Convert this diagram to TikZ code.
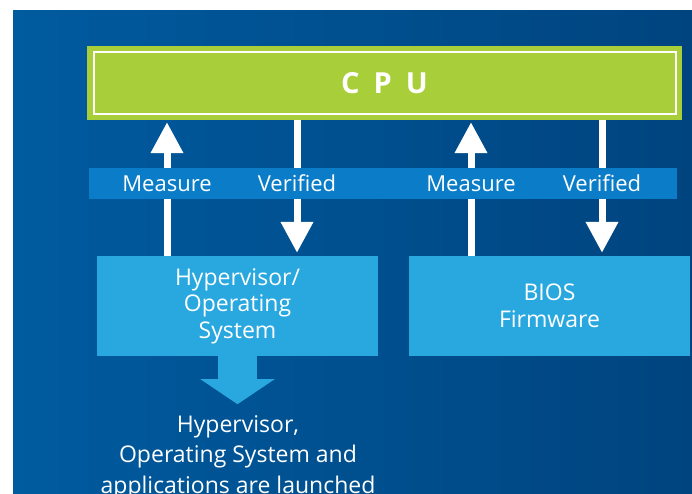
\documentclass[tikz,border=0pt]{standalone}
\usepackage{fontspec}
\setmainfont{Open Sans}
\definecolor{cBgLeft}{HTML}{005B9F}
\definecolor{cBgRight}{HTML}{00447F}
\definecolor{cGreen}{HTML}{A8CF3A}
\definecolor{cBand}{HTML}{0B7DC8}
\definecolor{cBox}{HTML}{29A8E0}
\usetikzlibrary{arrows.meta}
\usetikzlibrary{calc}

\tikzset{
	txt/.style={text=white, font=\fontsize{22}{27}\selectfont, align=center, inner sep=0pt},
	bluebox/.style={txt, font=\fontsize{23}{26.5}\selectfont, fill=cBox, minimum width=281pt, minimum height=100pt},
	uparrow/.style={white, line width=7pt, shorten >=2pt, -{Triangle[length=31pt,width=31pt]}},
	downarrow/.style={white, line width=7pt, shorten >=3pt, -{Triangle[length=31pt,width=31pt]}},
}

\begin{document}
\begin{tikzpicture}[x=1pt,y=-1pt]
		\useasboundingbox (0,0) rectangle (692,493);
		\shade [left color=cBgLeft, right color=cBgRight] (13,10) rectangle (692,493);
		% cpu bar with inner white frame
		\node [fill=cGreen, minimum width=595pt, minimum height=74pt, inner sep=0pt, text=white, font=\fontsize{29}{30}\selectfont\bfseries] (cpu) at (384.5,83) {C\hspace{14pt}P\hspace{14pt}U};
		\draw [white, line width=2.5pt] ([xshift=7.25pt,yshift=-6.25pt]cpu.north west) rectangle ([xshift=-6.25pt,yshift=6.25pt]cpu.south east);
		\node [bluebox] (hyp) at (237.5,306) {Hypervisor/\\Operating\\System};
		\node [bluebox] (bios) at (549.5,306) {BIOS\\Firmware};
		\coordinate (mL) at ([xshift=-70.5pt]hyp.north);
		\coordinate (vL) at ([xshift=59.5pt]hyp.north);
		\coordinate (mR) at ([xshift=-78.5pt]bios.north);
		\coordinate (vR) at ([xshift=52.5pt]bios.north);
		\draw [uparrow] (mL) -- (mL |- cpu.south);
		\draw [downarrow] (vL |- cpu.south) -- (vL);
		\draw [uparrow] (mR) -- (mR |- cpu.south);
		\draw [downarrow] (vR |- cpu.south) -- (vR);
		\node [fill=cBand, minimum width=588pt, minimum height=31pt, inner sep=0pt] (band) at (383,183.5) {};
		\node [txt] (measureL) at (mL |- band) {Measure};
		\node [txt] (verifiedL) at (vL |- band) {Verified};
		\node [txt] (measureR) at (mR |- band) {Measure};
		\node [txt] (verifiedR) at (vR |- band) {Verified};
		\draw [cBox, line width=39pt, -{Triangle[length=25pt,width=73pt]}] (hyp.south) -- ++(0,48) coordinate (launchtip);
		\node [txt, font=\fontsize{23}{30.5}\selectfont, anchor=north] (launch) at (238,415) {Hypervisor,\\Operating System and\\applications are launched};
		\end{tikzpicture}
\end{document}
